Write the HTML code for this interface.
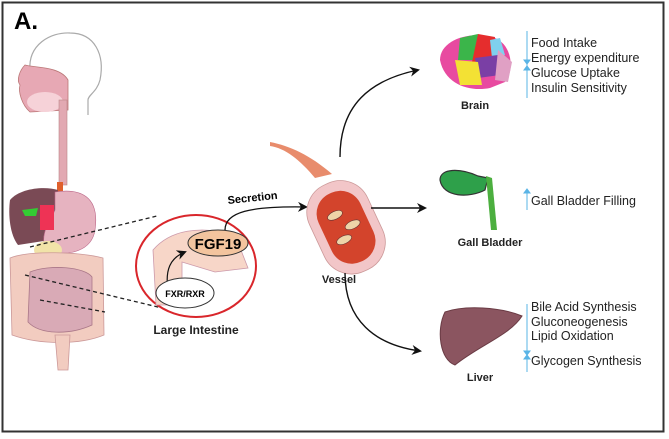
<!DOCTYPE html>
<html><head><style>
html,body{margin:0;padding:0;background:#fff;}
svg{display:block;}
text{font-family:"Liberation Sans",Arial,sans-serif;}
</style></head><body>
<svg width="669" height="439" viewBox="0 0 669 439" xmlns="http://www.w3.org/2000/svg">
<defs>
<marker id="ah" markerWidth="10" markerHeight="10" refX="8" refY="5" orient="auto" markerUnits="userSpaceOnUse">
<path d="M0,0 L10,5 L0,10 L3,5 Z" fill="#111"/></marker>
</defs>
<rect x="2.5" y="2.5" width="661" height="429" fill="#fff" stroke="#333" stroke-width="2"/>
<text x="14" y="29" font-size="24" font-weight="bold">A.</text>
<!-- head -->
<path d="M30,70 C28,45 50,32 70,33 C95,33 105,55 100,80 C97,92 88,95 88,100 L88,115" fill="none" stroke="#aaa" stroke-width="1.2"/>
<path d="M25,65 C35,68 60,66 68,80 L68,110 L30,112 C22,105 18,92 20,85 C16,80 20,70 25,65Z" fill="#e7a8b4" stroke="#b77" stroke-width="0.8"/>
<ellipse cx="45" cy="102" rx="18" ry="10" fill="#f6d2d8"/>
<rect x="59" y="100" width="8" height="85" fill="#e2a9b2" stroke="#b88" stroke-width="0.6"/>
<rect x="57" y="182" width="6" height="10" fill="#e0602c"/>
<!-- body organs -->
<path d="M10,200 C20,188 45,186 58,190 L50,240 L18,245 C10,235 8,215 10,200Z" fill="#7a4a55"/>
<path d="M55,192 C80,188 100,196 95,230 C92,250 70,258 45,250 C40,232 50,222 55,210Z" fill="#e6b3c0" stroke="#b68" stroke-width="0.6"/>
<path d="M22,210 L38,208 L36,216 L25,216Z" fill="#3c3"/>
<rect x="40" y="205" width="14" height="25" fill="#e35"/>
<ellipse cx="48" cy="250" rx="14" ry="9" fill="#f1e3a8"/>
<path d="M10,258 C30,250 80,252 103,258 L104,335 C80,345 40,345 12,335 Z" fill="#f2ccc0" stroke="#c99" stroke-width="0.8"/>
<path d="M30,272 C50,264 85,267 92,277 L92,325 C70,335 40,335 28,322Z" fill="#d9aab6" stroke="#a78" stroke-width="0.8"/>
<path d="M55,335 L70,335 L68,370 L58,370Z" fill="#f2ccc0" stroke="#c99" stroke-width="0.8"/>
<!-- dashed -->
<line x1="30" y1="247" x2="157" y2="216" stroke="#222" stroke-width="1.3" stroke-dasharray="4,3"/>
<line x1="25" y1="275" x2="162" y2="308" stroke="#222" stroke-width="1.3" stroke-dasharray="4,3"/>
<line x1="40" y1="300" x2="105" y2="312" stroke="#222" stroke-width="1.3" stroke-dasharray="4,3"/>
<!-- red circle -->
<ellipse cx="196" cy="266" rx="60" ry="51" fill="#fff" stroke="#d9262b" stroke-width="2"/>
<path d="M153,250 C170,230 200,225 235,235 L248,268 L215,272 L182,262 L182,305 L156,305 Z" fill="#f7d6c8" stroke="#c9a" stroke-width="0.8"/>
<path d="M168,290 C165,270 170,258 185,252" fill="none" stroke="#111" stroke-width="1.2" marker-end="url(#ah)"/>
<ellipse cx="218" cy="243" rx="30" ry="13" fill="#f3c49e" stroke="#333" stroke-width="1"/>
<text x="218" y="249" font-size="15" font-weight="bold" text-anchor="middle">FGF19</text>
<ellipse cx="185" cy="293" rx="29" ry="15" fill="#fff" stroke="#333" stroke-width="1"/>
<text x="185" y="297" font-size="9" font-weight="bold" text-anchor="middle">FXR/RXR</text>
<text x="196" y="334" font-size="12" font-weight="bold" text-anchor="middle" fill="#222">Large Intestine</text>
<!-- secretion -->
<path d="M225,230 C225,212 250,206 306,207" fill="none" stroke="#111" stroke-width="1.3" marker-end="url(#ah)"/>
<text x="228" y="204" font-size="11" font-weight="bold" transform="rotate(-6 228 204)">Secretion</text>
<!-- vessel -->
<path d="M270,146 C285,148 300,160 315,178 L332,174 C310,155 290,146 270,142Z" fill="#e88c6c"/>
<g transform="rotate(-25 345 225)">
<rect x="313" y="180" width="64" height="95" rx="30" fill="#f2c6c8" stroke="#c99" stroke-width="0.8"/>
<rect x="322" y="190" width="46" height="75" rx="22" fill="#d3442c"/>
<ellipse cx="340" cy="212" rx="8" ry="4" fill="#eed4a8" stroke="#633" stroke-width="0.6"/>
<ellipse cx="352" cy="228" rx="8" ry="4" fill="#eed4a8" stroke="#633" stroke-width="0.6"/>
<ellipse cx="338" cy="238" rx="8" ry="4" fill="#eed4a8" stroke="#633" stroke-width="0.6"/>
</g>
<text x="339" y="283" font-size="11" font-weight="bold" text-anchor="middle" fill="#222">Vessel</text>
<!-- arrows -->
<path d="M340,157 C340,105 370,80 418,70" fill="none" stroke="#111" stroke-width="1.4" marker-end="url(#ah)"/>
<line x1="371" y1="208" x2="425" y2="208" stroke="#111" stroke-width="1.4" marker-end="url(#ah)"/>
<path d="M345,273 C345,320 375,345 420,351" fill="none" stroke="#111" stroke-width="1.4" marker-end="url(#ah)"/>
<!-- brain -->
<path d="M440,60 C440,40 470,30 495,38 C512,45 515,70 505,82 L490,88 C470,92 445,85 440,60Z" fill="#e84aa0"/>
<path d="M460,38 L478,34 L475,60 L458,60Z" fill="#3bb54a"/>
<path d="M478,34 L495,37 L492,60 L472,62Z" fill="#e52d2d"/>
<path d="M490,40 L500,38 L505,55 L492,58Z" fill="#7fd0ee"/>
<path d="M475,58 L498,55 L500,75 L478,78Z" fill="#7a3fa5"/>
<path d="M498,50 L512,62 L508,82 L495,80Z" fill="#e0a0c4"/>
<path d="M455,60 L478,62 L482,85 L460,85Z" fill="#f3e134"/>
<text x="475" y="109" font-size="11" font-weight="bold" text-anchor="middle" fill="#222">Brain</text>
<!-- gall bladder -->
<path d="M440,180 C440,168 460,168 478,176 L488,178 L485,190 C470,198 443,198 440,180Z" fill="#2ea04a" stroke="#333" stroke-width="1.2"/>
<path d="M486,176 L492,178 L497,230 L491,230 Z" fill="#4caf3f"/>
<text x="490" y="246" font-size="11" font-weight="bold" text-anchor="middle" fill="#222">Gall Bladder</text>
<!-- liver -->
<path d="M445,312 C465,305 500,307 522,316 C510,335 480,345 455,365 C440,360 436,330 445,312Z" fill="#8b5560" stroke="#6a3b44" stroke-width="1"/>
<text x="480" y="381" font-size="11" font-weight="bold" text-anchor="middle" fill="#222">Liver</text>
<!-- blue lines + text -->
<g stroke="#5ab4e6" stroke-width="1" fill="#5ab4e6">
<line x1="527" y1="31" x2="527" y2="98"/>
<path d="M524,60 L530,60 L527,64Z"/><path d="M524,70 L530,70 L527,66Z"/>
<line x1="527" y1="190" x2="527" y2="210"/><path d="M524,193 L530,193 L527,189Z"/>
<line x1="527" y1="304" x2="527" y2="372"/>
<path d="M524,351 L530,351 L527,355Z"/><path d="M524,359 L530,359 L527,355Z"/>
</g>
<g font-size="12.5" fill="#222">
<text x="531" y="47">Food Intake</text>
<text x="531" y="62">Energy expenditure</text>
<text x="531" y="77">Glucose Uptake</text>
<text x="531" y="92">Insulin Sensitivity</text>
<text x="531" y="205">Gall Bladder Filling</text>
<text x="531" y="311">Bile Acid Synthesis</text>
<text x="531" y="326">Gluconeogenesis</text>
<text x="531" y="340">Lipid Oxidation</text>
<text x="531" y="365">Glycogen Synthesis</text>
</g>
</svg>
</body></html>
